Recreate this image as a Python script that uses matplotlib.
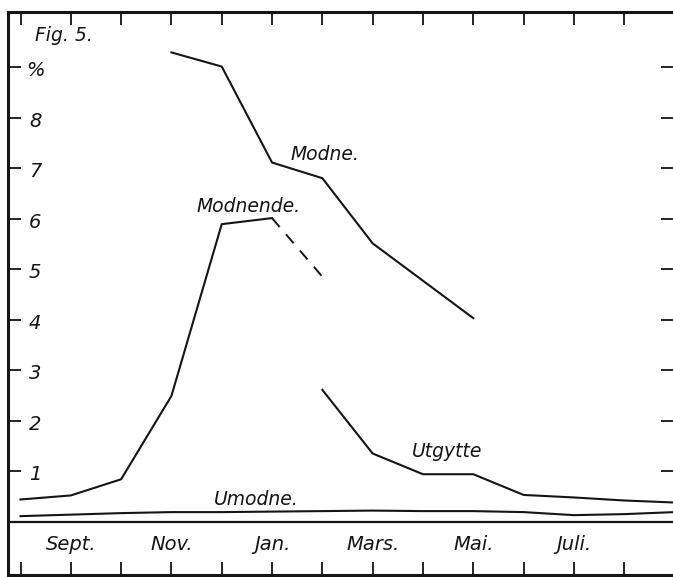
import matplotlib.pyplot as plt

# months counted from August (0) ; 13 = next September
months_lbl = ['Sept.', 'Nov.', 'Jan.', 'Mars.', 'Mai.', 'Juli.']
months_pos = [1, 3, 5, 7, 9, 11]

modne_x = [3, 4, 5, 6, 7, 8, 9]
modne_y = [9.29, 9.01, 7.11, 6.80, 5.51, 4.77, 4.03]

modnende_x = [0, 1, 2, 3, 4, 5]
modnende_y = [0.44, 0.52, 0.84, 2.49, 5.89, 6.01]
modnende_dash_x = [5, 6]
modnende_dash_y = [6.01, 4.85]

utgytte_x = [6, 7, 8, 9, 10, 11, 12, 13]
utgytte_y = [2.61, 1.35, 0.94, 0.94, 0.53, 0.48, 0.42, 0.38]

umodne_x = [0, 1, 2, 3, 4, 5, 6, 7, 8, 9, 10, 11, 12, 13]
umodne_y = [0.11, 0.14, 0.17, 0.19, 0.19, 0.20, 0.21, 0.22, 0.21, 0.21, 0.19, 0.13, 0.15, 0.19]

ytick_vals = [1, 2, 3, 4, 5, 6, 7, 8, 9]
ytick_lbls = ['1', '2', '3', '4', '5', '6', '7', '8', '%']

ink = '#151515'
font = dict(family='DejaVu Sans', style='italic', color=ink)

fig = plt.figure(figsize=(6.73, 5.77), dpi=100)
ax = fig.add_axes([8/673, 2/577, 665/673, 563/577])
ax.set_xlim(-0.2485, 12.97)
ax.set_ylim(-1.055, 10.09)

ax.plot(modne_x, modne_y, color=ink, lw=1.5)
ax.plot(modnende_x, modnende_y, color=ink, lw=1.5)
ax.plot(modnende_dash_x, modnende_dash_y, color=ink, lw=1.4, linestyle=(0, (6, 5)))
ax.plot(utgytte_x, utgytte_y, color=ink, lw=1.5)
ax.plot(umodne_x, umodne_y, color=ink, lw=1.5)
ax.axhline(0, color=ink, lw=1.6)

# frame and ticks
for s in ['left', 'top', 'bottom']:
    ax.spines[s].set_linewidth(2.2)
    ax.spines[s].set_color(ink)
ax.spines['right'].set_visible(False)
ax.set_xticks(range(0, 13))
ax.set_yticks(ytick_vals)
ax.tick_params(axis='x', direction='in', top=True, bottom=True, length=9.4, width=1.3,
               color=ink, labelbottom=False)
ax.tick_params(axis='y', direction='in', left=True, right=True, length=9, width=1.3,
               color=ink, labelleft=False)

for v, l in zip(ytick_vals, ytick_lbls):
    ax.text(0.29, v - 0.07, l, ha='center', va='center', fontsize=14, **font)

for p, l in zip(months_pos, months_lbl):
    ax.text(p, -0.46, l, ha='center', va='center', fontsize=14, **font)

ax.text(0.865, 9.62, 'Fig. 5.', ha='center', va='center', fontsize=13.5, **font)
ax.text(6.05, 7.26, 'Modne.', ha='center', va='center', fontsize=13.5, **font)
ax.text(4.54, 6.23, 'Modnende.', ha='center', va='center', fontsize=13.5, **font)
ax.text(8.48, 1.38, 'Utgytte', ha='center', va='center', fontsize=13.5, **font)
ax.text(4.68, 0.43, 'Umodne.', ha='center', va='center', fontsize=13.5, **font)

fig.savefig('out.png', dpi=100)
